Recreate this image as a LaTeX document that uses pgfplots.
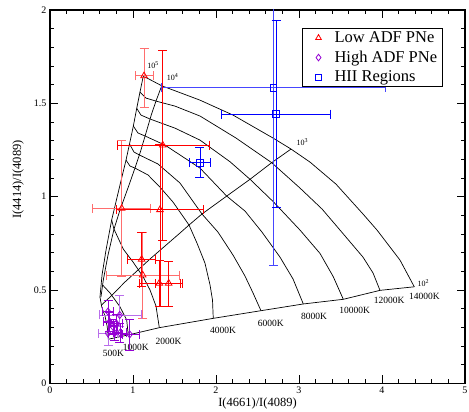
\documentclass[border=0pt]{standalone}
\usepackage{pgfplots}
\pgfplotsset{compat=1.18}
\usepackage{fontspec}
\setmainfont{Liberation Serif}
\definecolor{gred}{RGB}{255,0,0}
\definecolor{gpink}{RGB}{255,110,110}
\definecolor{gviolet}{RGB}{148,0,211}
\definecolor{glav}{RGB}{185,110,235}
\definecolor{gblue}{RGB}{0,0,255}
\definecolor{glblue}{RGB}{70,70,255}
\begin{document}
\begin{tikzpicture}
\begin{axis}[
  scale only axis, width=415pt, height=373.3pt,
  xmin=0, xmax=5, ymin=0, ymax=2,
  xtick={0,1,2,3,4,5}, ytick={0,0.5,1,1.5,2},
  minor x tick num=4, minor y tick num=4,
  major tick length=8pt, minor tick length=4pt,
  tick align=inside,
  tick style={black, line width=0.8pt},
  axis line style={line width=1.3pt},
  /pgf/number format/assume math mode=true,
  ticklabel style={font=\fontsize{10}{12}\selectfont},
  xlabel={I(4661)/I(4089)}, ylabel={I(4414)/I(4089)},
  label style={font=\fontsize{12.5}{14}\selectfont},
  every axis x label/.append style={at={(rel axis cs:0.5,-0.054)}, anchor=center},
  every axis y label/.append style={at={(rel axis cs:-0.077,0.546)}, anchor=center},
  legend style={at={(rel axis cs:0.946,0.951)}, anchor=north east, draw=black, line width=0.8pt,
    font=\fontsize{16.5}{17}\selectfont, row sep=3pt, inner xsep=3pt, inner ysep=1pt},
  legend cell align=left,
]
% ---------------- model grid ----------------
\pgfplotsset{gridline/.style={black, line width=0.7pt, forget plot}}
% density lines
\addplot[gridline] coordinates {(1.124,1.646) (1.084,1.560) (1.045,1.473) (1.004,1.378) (0.958,1.282) (0.916,1.196) (0.843,1.062) (0.743,0.875) (0.675,0.714) (0.627,0.580) (0.602,0.462)};
\addplot[gridline] coordinates {(1.346,1.594) (1.277,1.512) (1.223,1.442) (1.163,1.351) (1.096,1.250) (1.036,1.169) (0.952,1.062) (0.843,0.928) (0.771,0.826) (0.699,0.687) (0.642,0.553) (0.614,0.462)};
\addplot[gridline] coordinates {(2.904,1.255) (2.671,1.182) (2.410,1.093) (2.129,1.003) (1.831,0.907) (1.675,0.848) (1.566,0.805) (1.205,0.666) (0.904,0.543) (0.723,0.462) (0.620,0.419)};
\addplot[gridline] coordinates {(0.702,0.236) (0.943,0.259) (1.317,0.298) (1.967,0.348) (2.542,0.389) (3.052,0.425) (3.534,0.450) (3.976,0.498) (4.389,0.517)};
% temperature lines
\addplot[gridline] coordinates {(1.124,1.646) (1.346,1.594) (1.807,1.517) (2.205,1.437) (2.687,1.314) (2.904,1.255) (3.133,1.185) (3.446,1.067) (3.771,0.907) (3.940,0.821) (4.217,0.660) (4.389,0.517)};
\addplot[gridline] coordinates {(1.084,1.560) (1.157,1.528) (1.277,1.512) (1.506,1.485) (1.807,1.432) (2.241,1.314) (2.671,1.182) (3.012,1.046) (3.277,0.934) (3.494,0.821) (3.771,0.676) (3.892,0.591) (3.976,0.498)};
\addplot[gridline] coordinates {(1.045,1.473) (1.096,1.437) (1.205,1.416) (1.506,1.367) (1.807,1.303) (2.169,1.187) (2.410,1.093) (2.690,0.973) (3.012,0.821) (3.253,0.696) (3.413,0.571) (3.534,0.450)};
\addplot[gridline] coordinates {(1.004,1.378) (1.060,1.341) (1.145,1.325) (1.386,1.276) (1.807,1.153) (2.129,1.003) (2.349,0.923) (2.554,0.810) (2.771,0.676) (2.928,0.559) (3.052,0.425)};
\addplot[gridline] coordinates {(0.958,1.282) (1.012,1.239) (1.078,1.223) (1.301,1.175) (1.566,1.073) (1.831,0.907) (2.024,0.810) (2.205,0.687) (2.349,0.575) (2.446,0.484) (2.542,0.389)};
\addplot[gridline] coordinates {(0.916,1.196) (0.964,1.164) (1.024,1.153) (1.181,1.116) (1.325,1.051) (1.482,0.971) (1.675,0.848) (1.771,0.751) (1.867,0.644) (1.928,0.527) (1.958,0.446) (1.967,0.348)};
\addplot[gridline] coordinates {(0.743,0.875) (0.771,0.826) (0.883,0.719) (1.000,0.650) (1.124,0.569) (1.205,0.500) (1.277,0.414) (1.317,0.298)};
\addplot[gridline] coordinates {(0.633,0.527) (0.723,0.484) (0.843,0.410) (0.924,0.339) (0.943,0.259)};
\addplot[gridline] coordinates {(0.602,0.462) (0.623,0.410) (0.663,0.360) (0.690,0.302) (0.702,0.236)};
% grid labels
\node[font=\fontsize{8}{9}\selectfont] at (axis cs:1.241,1.705) {10\textsuperscript{5}};
\node[font=\fontsize{8}{9}\selectfont] at (axis cs:1.478,1.642) {10\textsuperscript{4}};
\node[font=\fontsize{8}{9}\selectfont] at (axis cs:3.042,1.294) {10\textsuperscript{3}};
\node[font=\fontsize{8}{9}\selectfont] at (axis cs:4.498,0.536) {10\textsuperscript{2}};
\node[font=\fontsize{9.5}{10}\selectfont] at (axis cs:0.763,0.161) {500K};
\node[font=\fontsize{9.5}{10}\selectfont] at (axis cs:1.034,0.191) {1000K};
\node[font=\fontsize{9.5}{10}\selectfont] at (axis cs:1.428,0.223) {2000K};
\node[font=\fontsize{9.5}{10}\selectfont] at (axis cs:2.084,0.285) {4000K};
\node[font=\fontsize{9.5}{10}\selectfont] at (axis cs:2.659,0.321) {6000K};
\node[font=\fontsize{9.5}{10}\selectfont] at (axis cs:3.181,0.360) {8000K};
\node[font=\fontsize{9.5}{10}\selectfont] at (axis cs:3.671,0.393) {10000K};
\node[font=\fontsize{9.5}{10}\selectfont] at (axis cs:4.088,0.446) {12000K};
\node[font=\fontsize{9.5}{10}\selectfont] at (axis cs:4.510,0.468) {14000K};
% ---------------- data ----------------
\pgfplotsset{ebars/.style={error bars/.cd, x dir=both, y dir=both, x explicit, y explicit,
   error bar style={line width=0.8pt, color=#1},
   error mark options={rotate=90, line width=0.8pt, mark size=4.5pt, color=#1}}}
% light errorbars first
\addplot[forget plot, only marks, mark=triangle, mark size=3.8pt, gred, mark options={line width=0.8pt}, ebars=gpink] coordinates {
 (1.133,1.647) += (0.11,0.147) -= (0.11,0.171)
 (0.864,0.937) += (0.346,0.367) -= (0.354,0.366)
 (1.117,0.580) +- (0.442,0.23)
};
\addplot[forget plot, only marks, mark=square, mark size=3.3pt, gblue, mark options={line width=0.8pt}, ebars=glblue] coordinates {
 (2.69,1.583) +- (1.345,0.949)
};
\addplot[forget plot, only marks, mark=diamond, mark size=3.6pt, gviolet, mark options={line width=0.8pt}, ebars=glav] coordinates {
 (0.840,0.366) += (0.26,0.107) -= (0.24,0.06)
 (0.699,0.268) += (0.11,0.174) -= (0.11,0.063)
};
% main series
\addplot[forget plot, only marks, mark=triangle, mark size=3.8pt, gred, mark options={line width=0.8pt}, ebars=gred] coordinates {
 (1.358,1.276) += (0.558,0.506) -= (0.543,0.508)
 (1.325,0.930) += (0.522,0.35) -= (0.522,0.52)
 (1.104,0.664) +- (0.17,0.145)
 (1.317,0.536) += (0.26,0.125) -= (0.245,0.126)
 (1.430,0.536) += (0.164,0.115) -= (0.165,0.126)
};
\addplot[forget plot, only marks, mark=diamond, mark size=3.6pt, gviolet, mark options={line width=0.8pt}, ebars=gviolet] coordinates {
 (0.699,0.384) +- (0.07,0.06)
 (0.719,0.330) +- (0.08,0.05)
 (0.800,0.321) +- (0.07,0.05)
 (0.759,0.303) +- (0.05,0.04)
 (0.779,0.268) +- (0.08,0.04)
 (0.843,0.270) +- (0.08,0.05)
 (0.960,0.262) += (0.12,0.081) -= (0.09,0.084)
};
\addplot[forget plot, only marks, mark=square, mark size=3.3pt, gblue, mark options={line width=0.8pt}, ebars=gblue] coordinates {
 (1.807,1.182) +- (0.13,0.08)
 (2.723,1.442) += (0.65,0.5) -= (0.655,0.5)
};
% legend
\addlegendimage{legend image code/.code={\path[draw=none] (0pt,-4pt) (27pt,4pt); \draw[gred, line width=0.8pt, mark=triangle, mark size=3.3pt] plot coordinates {(13pt,0pt)};}}
\addlegendentry{Low ADF PNe}
\addlegendimage{legend image code/.code={\path[draw=none] (0pt,-4pt) (27pt,4pt); \draw[gviolet, line width=0.8pt, mark=diamond, mark size=3.3pt] plot coordinates {(13pt,0pt)};}}
\addlegendentry{High ADF PNe}
\addlegendimage{legend image code/.code={\path[draw=none] (0pt,-4pt) (27pt,4pt); \draw[gblue, line width=0.8pt, mark=square, mark size=2.8pt] plot coordinates {(13pt,0pt)};}}
\addlegendentry{HII Regions}
\end{axis}
\pgfresetboundingbox
\path[use as bounding box] (-50pt,-28.7pt) rectangle (419pt,383.3pt);
\end{tikzpicture}
\end{document}
